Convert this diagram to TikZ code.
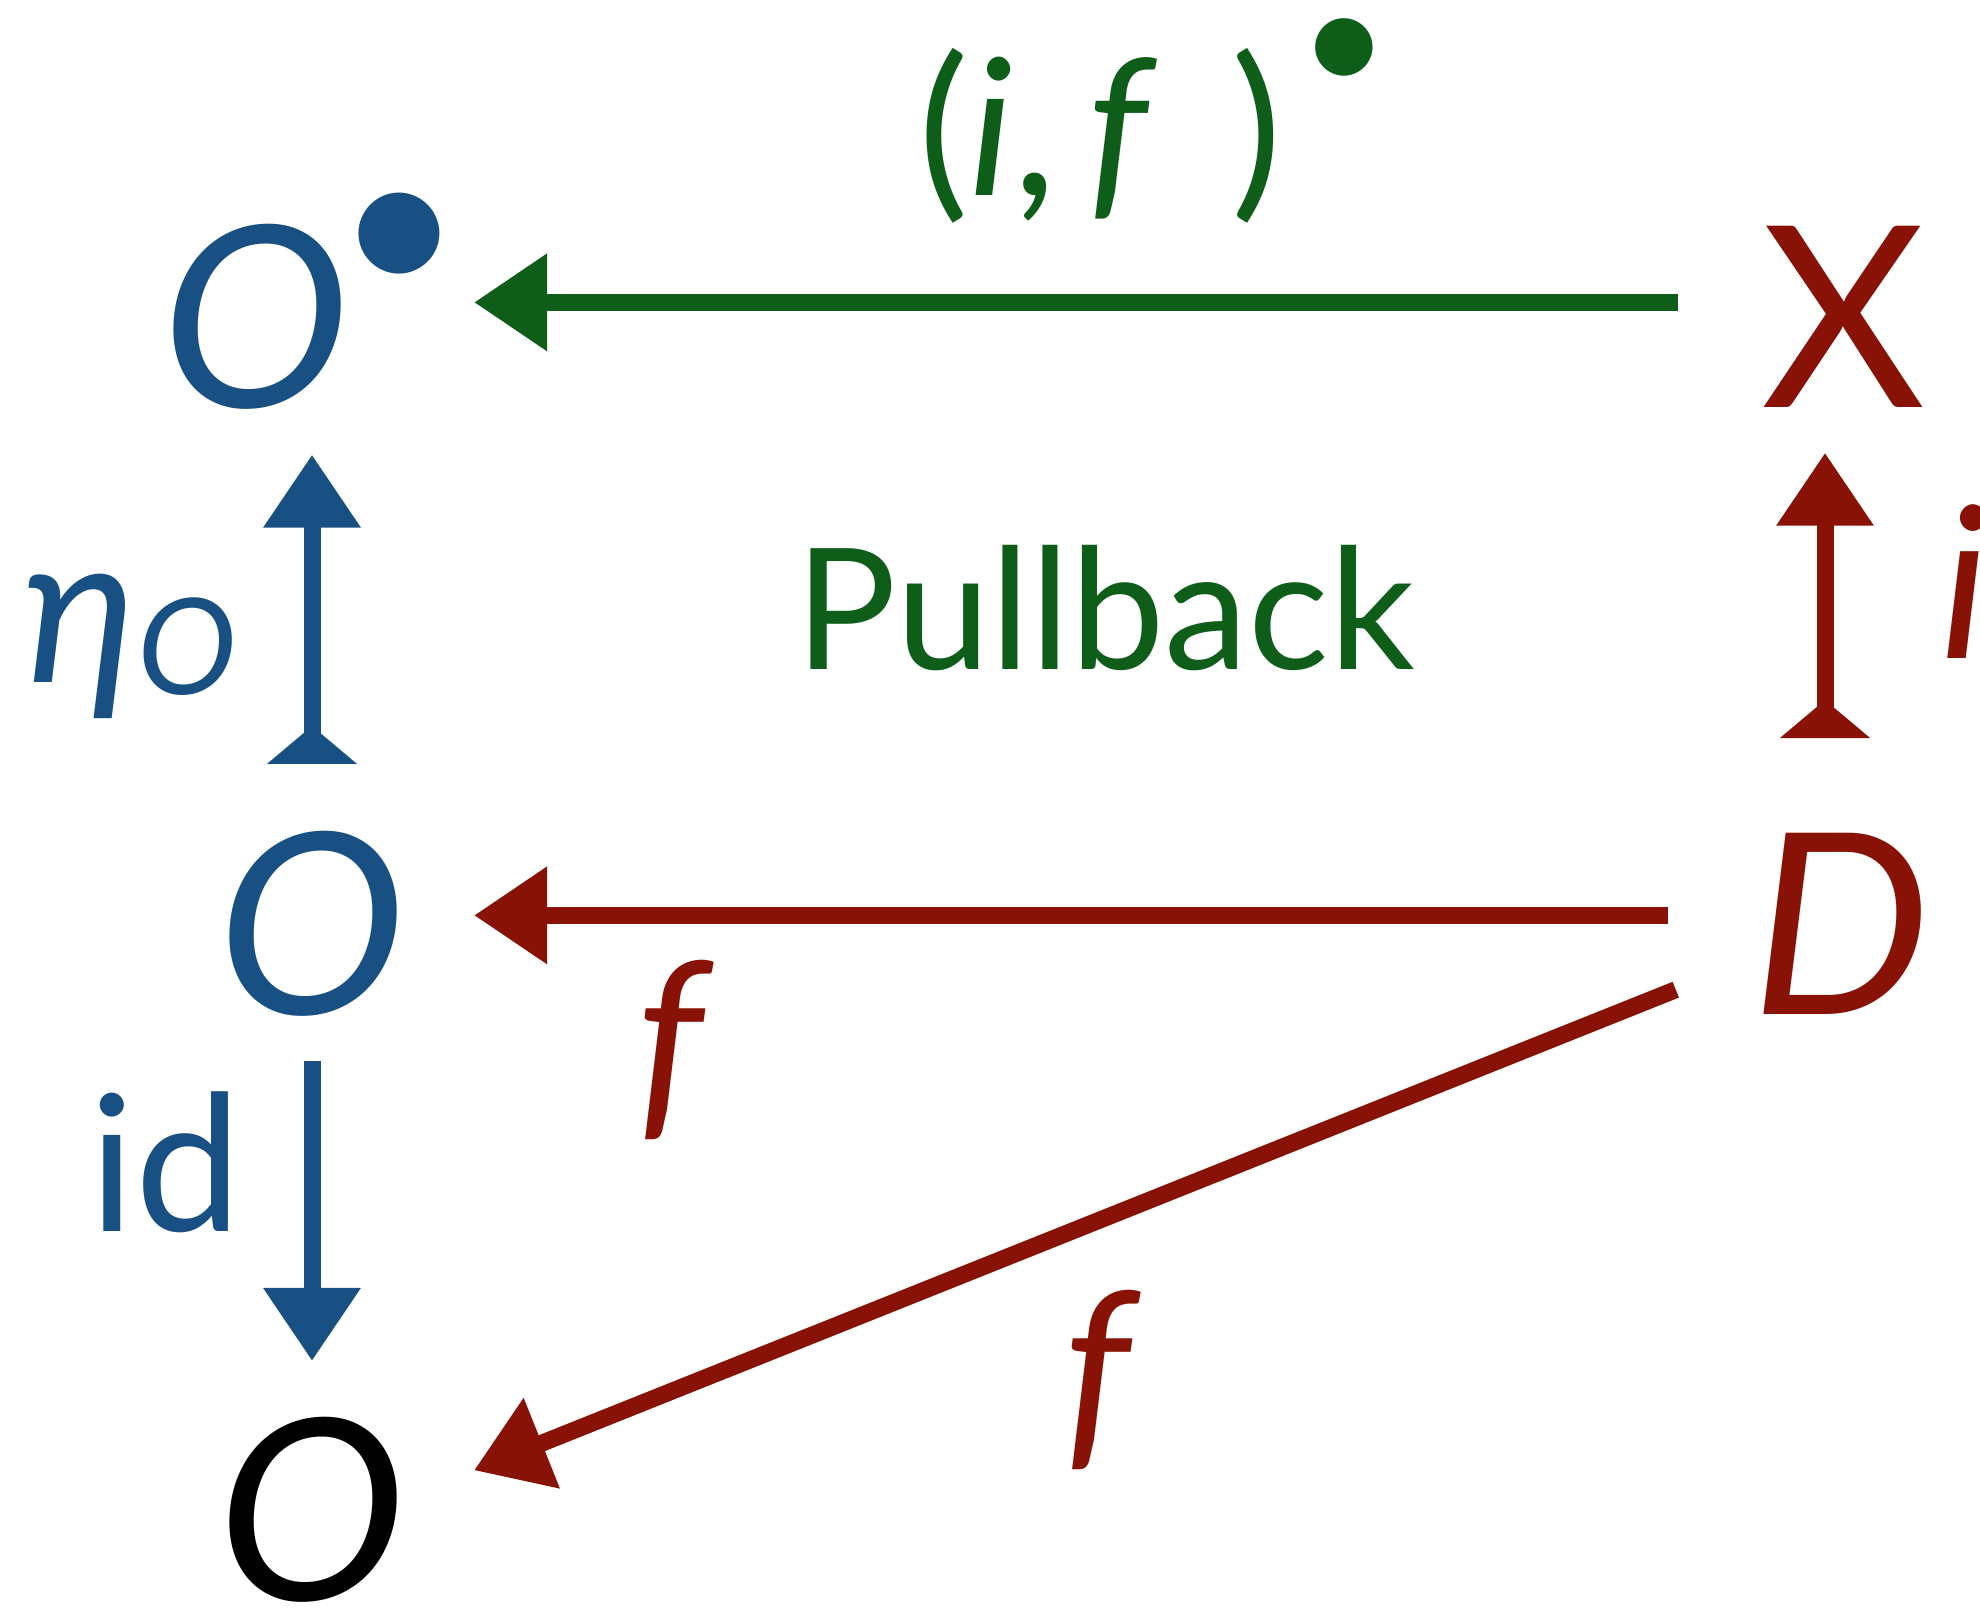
\documentclass[tikz,border=0pt]{standalone}
\usepackage{fontspec}
\setmainfont{Lato}
\usetikzlibrary{arrows.meta}
\definecolor{catblue}{RGB}{24,80,132}
\definecolor{catgreen}{RGB}{14,94,26}
\definecolor{catred}{RGB}{135,18,5}

\begin{document}
\begin{tikzpicture}[every node/.style={inner sep=0pt, anchor=base},
  obj/.style={font=\fontsize{72}{80}\selectfont\itshape},
  lbl/.style={font=\fontsize{60}{70}\selectfont},
  arr/.style={line width=1.7mm, -{Triangle[length=7.3mm, width=9.3mm]}},
  uparr/.style={line width=1.7mm,
    {Triangle[reversed, length=3.8mm, width=8.8mm]}-{Triangle[length=7.3mm, width=9.3mm]}}]
  \useasboundingbox (0,0) rectangle (19.8,-16.1);
  % objects
  \node[obj, catblue, anchor=base west] (Otop) at (1.61,-4.07)
    {O\kern-4pt\raisebox{31pt}{\fontsize{62}{62}\selectfont•}};
  \node[obj, catred] (X) at (18.44,-4.07) {\upshape X};
  \node[obj, catblue] (Omid) at (3.12,-10.14) {O};
  \node[obj, catred] (D) at (18.41,-10.14) {D};
  \node[obj] (Obot) at (3.12,-16.00) {O};
  % labels
  \node[lbl, catgreen, anchor=base west, font=\fontsize{54}{62}\selectfont] (pair) at (9.18,-1.95)
    {(\textit{i},\,\textit{f}\,\,\kern3pt)\kern5pt\raisebox{29pt}{\fontsize{44}{44}\selectfont•}};
  \node[lbl, catgreen, font=\fontsize{48}{58}\selectfont] (pull) at (11.05,-6.69) {Pullback};
  \node[lbl, catblue, anchor=base east] (eta) at (2.38,-6.82)
    {\textit{η}\raisebox{-0.06em}{\fontsize{38}{38}\selectfont\textit{O}}};
  \node[lbl, catblue, anchor=base east, font=\fontsize{54}{62}\selectfont] (idl) at (2.42,-12.31) {id};
  \node[lbl, catred, anchor=center] (fh) at (6.75,-10.50) {\textit{f}};
  \node[lbl, catred, anchor=center] (fd) at (11.02,-13.80) {\textit{f}};
  \node[lbl, catred, anchor=base west] (il) at (19.40,-6.58) {\textit{i}};
  % top and middle rows
  \draw[arr, catgreen] ([xshift=-0.83cm, yshift=0.14cm]X.west)
    -- ([xshift=0.67cm, yshift=0.14cm]X.west -| Omid.east);
  \draw[arr, catred] ([xshift=-0.83cm, yshift=0.08cm]D.west)
    -- ([xshift=0.67cm, yshift=0.08cm]D.west -| Omid.east);
  % verticals
  \draw[uparr, catblue] ([yshift=0.66cm]Omid.north) -- ([yshift=-0.45cm]Otop.south -| Omid.north);
  \draw[uparr, catred] ([xshift=-0.16cm, yshift=0.94cm]D.north)
    -- ([xshift=-0.16cm, yshift=-0.45cm]X.south -| D.north);
  \draw[arr, catblue] ([yshift=-0.44cm]Omid.south) -- ([yshift=0.55cm]Obot.north);
  % diagonal
  \draw[arr, catred] ([xshift=-0.75cm, yshift=0.25cm]D.south west)
    -- ([xshift=0.67cm, yshift=0.39cm]Obot.east);
\end{tikzpicture}
\end{document}
